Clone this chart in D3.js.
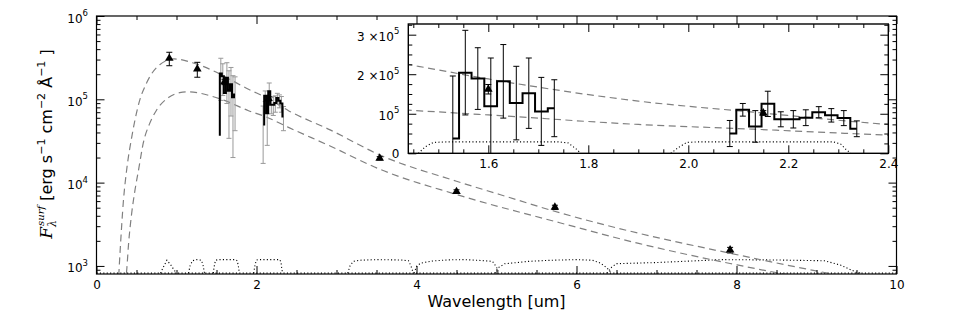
<!DOCTYPE html>
<html>
<head>
<meta charset="utf-8">
<script src="https://cdn.jsdelivr.net/npm/d3@7"></script>
<style>
body { margin: 0; background: #fff; }
svg { display: block; }
</style>
</head>
<body>
<script>
// фотометрия: длина волны (мкм), поток и ошибка
var photLam  = [0.91, 1.26, 1.60, 2.15, 3.54, 4.50, 5.73, 7.92];
var photFlux = [3.1e5, 2.31e5, 1.62e5, 1.02e5, 1.96e4, 7.8e3, 5.05e3, 1.55e3];
var photErr  = [0.57e5, 0.47e5, 0.12e5, 0.06e5, 0.9e3, 0.4e3, 0.3e3, 0.12e3];

// спектр в полосе H
var hLam  = [1.529, 1.554, 1.579, 1.605, 1.630, 1.656, 1.681, 1.706, 1.732];
var hFlux = [0.375e5, 2.04e5, 1.89e5, 1.19e5, 1.82e5, 1.27e5, 1.52e5, 1.06e5, 1.14e5];
var hErr  = [1.58e5, 1.07e5, 0.78e5, 1.22e5, 0.93e5, 0.93e5, 0.89e5, 0.86e5, 0.72e5];

// спектр в полосе K
var kLam  = [2.083, 2.109, 2.134, 2.159, 2.185, 2.210, 2.235, 2.261, 2.286, 2.311, 2.337];
var kFlux = [0.5e5, 1.1e5, 0.68e5, 1.25e5, 0.86e5, 0.86e5, 0.9e5, 1.04e5, 0.96e5, 0.89e5, 0.62e5];
var kErr  = [0.33e5, 0.16e5, 0.4e5, 0.32e5, 0.19e5, 0.22e5, 0.2e5, 0.14e5, 0.17e5, 0.19e5, 0.2e5];

// две модели (пунктир), точки
var hotLam  = [0.27, 0.30, 0.335, 0.38, 0.44, 0.53, 0.63, 0.79, 0.97, 1.2, 1.46, 1.6, 1.9, 2.13, 2.4, 2.92, 3.54, 4.5, 5.04, 5.79, 6.79, 7.92, 9.2, 9.5];
var hotFlux = [550, 1.8e3, 5.8e3, 1.5e4, 3.5e4, 9e4, 1.6e5, 2.6e5, 3.05e5, 2.75e5, 2.2e5, 1.88e5, 1.32e5, 1.04e5, 7.3e4, 4.3e4, 2.15e4, 1.04e4, 7.2e3, 4.35e3, 2.45e3, 1.42e3, 800, 710];
var coolLam  = [0.36, 0.38, 0.40, 0.44, 0.48, 0.53, 0.585, 0.66, 0.75, 0.9, 1.04, 1.15, 1.3, 1.44, 1.6, 1.9, 2.13, 2.4, 2.92, 3.54, 4.5, 5.79, 6.79, 7.92, 8.6, 8.9];
var coolFlux = [600, 950, 1.8e3, 4.3e3, 8e3, 1.5e4, 3.0e4, 5.0e4, 7.4e4, 1.05e5, 1.2e5, 1.23e5, 1.18e5, 1.09e5, 9.7e4, 7.3e4, 6.1e4, 4.6e4, 2.75e4, 1.45e4, 7.2e3, 3.3e3, 1.85e3, 1.07e3, 800, 720];

// кривые пропускания фильтров: [длина волны, пропускание]
var filtZ  = [[0.80,0],[0.84,0.45],[0.88,0.95],[0.93,0.55],[0.97,0.2],[1.0,0]];
var filtJ  = [[1.15,0],[1.17,0.5],[1.20,0.9],[1.25,1],[1.31,0.95],[1.33,0.6],[1.35,0]];
var filtH  = [[1.46,0],[1.475,0.6],[1.49,0.95],[1.52,1],[1.74,1],[1.76,0.9],[1.775,0.4],[1.785,0]];
var filtK  = [[1.965,0],[1.98,0.5],[1.997,0.95],[2.02,1],[2.29,1],[2.305,0.8],[2.315,0.35],[2.325,0]];
var filtI1 = [[3.14,0],[3.17,0.5],[3.21,0.85],[3.3,0.95],[3.5,1],[3.8,0.97],[3.9,0.9],[3.93,0.5],[3.96,0]];
var filtI2 = [[3.97,0],[4.0,0.45],[4.05,0.7],[4.2,0.88],[4.4,0.98],[4.6,1.0],[4.8,0.93],[4.95,0.85],[5.0,0.4],[5.03,0]];
var filtI3 = [[4.98,0],[5.02,0.35],[5.1,0.65],[5.4,0.85],[5.7,0.95],[6.0,1.0],[6.2,0.95],[6.3,0.7],[6.38,0.35],[6.44,0]];
var filtI4 = [[6.38,0],[6.44,0.4],[6.5,0.66],[7.0,0.75],[7.5,0.9],[7.8,1.0],[8.5,0.97],[9.1,0.9],[9.3,0.55],[9.5,0.05],[9.55,0]];
var filters = [filtZ, filtJ, filtH, filtK, filtI1, filtI2, filtI3, filtI4];

// подписи делений
var xTicks = [0, 2, 4, 6, 8, 10];
var yDecades = [3, 4, 5, 6];
var insetXTicks = [1.6, 1.8, 2.0, 2.2, 2.4];
var insetYTicks = [0, 1e5, 2e5, 3e5];
var insetYLabels = [['0', ''], ['10', '5'], ['2 \u00d710', '5'], ['3 \u00d710', '5']];

var w = 969, h = 323;
var font = '"DejaVu Sans", sans-serif';

var svg = d3.select('body').append('svg')
    .attr('width', w)
    .attr('height', h)
    .style('font-family', font);

// шкалы основного графика и врезки
var x = d3.scaleLinear().domain([0, 10]).range([96.5, 896.5]);
var y = d3.scaleLog().domain([800, 1e6]).range([274, 16]);
var xi = d3.scaleLinear().domain([1.44, 2.4]).range([408.3, 888.3]);
var yi = d3.scaleLinear().domain([0, 3.27e5]).range([153.3, 24]);

// базовый уровень и высота кривых фильтров на каждой панели
var filtMain = {base: 820, amp: 370};
var filtInset = {base: 0, amp: 0.29e5};

function zip(a, b) { return a.map(function(v, i) { return [v, b[i]]; }); }

var defs = svg.append('defs');
function addClip(id, sx, sy) {
    defs.append('clipPath').attr('id', id).append('rect')
        .attr('x', sx.range()[0]).attr('y', sy.range()[1])
        .attr('width', sx.range()[1] - sx.range()[0])
        .attr('height', sy.range()[0] - sy.range()[1]);
}
addClip('clip-main', x, y);
addClip('clip-inset', xi, yi);

// рисует содержимое панели
function drawPanel(g, sx, sy, opt) {
    var fline = d3.line()
        .x(function(d) { return sx(d[0]); })
        .y(function(d) { return sy(opt.filt.base + d[1] * opt.filt.amp); });

    if (opt.baseline) {
        g.append('path').attr('d', fline([[0, 0], [10, 0]]))
            .attr('fill', 'none').attr('stroke', '#000')
            .attr('stroke-width', 1.1).attr('stroke-dasharray', '1.1,2.3');
    }
    g.selectAll('path.filter').data(filters).enter().append('path')
        .attr('class', 'filter')
        .attr('d', fline)
        .attr('fill', 'none').attr('stroke', '#000')
        .attr('stroke-width', 1.1).attr('stroke-dasharray', '1.1,2.3');

    var mline = d3.line()
        .x(function(d) { return sx(d[0]); })
        .y(function(d) { return sy(d[1]); })
        .curve(d3.curveMonotoneX);
    [zip(hotLam, hotFlux), zip(coolLam, coolFlux)].forEach(function(m) {
        g.append('path').attr('d', mline(m))
            .attr('fill', 'none').attr('stroke', '#808080')
            .attr('stroke-width', 1.2).attr('stroke-dasharray', '7,4.5');
    });

    // ошибки спектра
    [[hLam, hFlux, hErr], [kLam, kFlux, kErr]].forEach(function(s) {
        s[0].forEach(function(l, i) {
            var lo = s[1][i] - s[2][i], hi = s[1][i] + s[2][i];
            if (opt.log && lo <= 0) return;
            var cx = sx(l);
            var eg = g.append('g').attr('stroke', opt.errColor).attr('stroke-width', 1);
            var ylo = opt.log ? sy(lo) : sy(Math.max(lo, sy.domain()[0] - 1e5));
            eg.append('line').attr('x1', cx).attr('x2', cx).attr('y1', sy(hi)).attr('y2', ylo);
            eg.append('line').attr('x1', cx - opt.cap).attr('x2', cx + opt.cap).attr('y1', sy(hi)).attr('y2', sy(hi));
            if (lo > 0) eg.append('line').attr('x1', cx - opt.cap).attr('x2', cx + opt.cap).attr('y1', sy(lo)).attr('y2', sy(lo));
        });
    });

    // спектр ступеньками
    var sline = d3.line()
        .x(function(d) { return sx(d[0]); })
        .y(function(d) { return sy(d[1]); })
        .curve(d3.curveStep);
    [zip(hLam, hFlux), zip(kLam, kFlux)].forEach(function(s) {
        g.append('path').attr('d', sline(s))
            .attr('fill', 'none').attr('stroke', '#000').attr('stroke-width', 2);
    });

    // фотометрия
    var phot = photLam.map(function(l, i) { return {l: l, f: photFlux[i], e: photErr[i]}; });
    var pg = g.selectAll('g.phot').data(phot).enter().append('g').attr('class', 'phot')
        .attr('stroke', '#000').attr('stroke-width', 1);
    pg.append('line')
        .attr('x1', function(d) { return sx(d.l); }).attr('x2', function(d) { return sx(d.l); })
        .attr('y1', function(d) { return sy(d.f + d.e); }).attr('y2', function(d) { return sy(d.f - d.e); });
    pg.append('line')
        .attr('x1', function(d) { return sx(d.l) - 3; }).attr('x2', function(d) { return sx(d.l) + 3; })
        .attr('y1', function(d) { return sy(d.f + d.e); }).attr('y2', function(d) { return sy(d.f + d.e); });
    pg.append('line')
        .attr('x1', function(d) { return sx(d.l) - 3; }).attr('x2', function(d) { return sx(d.l) + 3; })
        .attr('y1', function(d) { return sy(d.f - d.e); }).attr('y2', function(d) { return sy(d.f - d.e); });
    pg.append('path')
        .attr('d', d3.symbol().type(d3.symbolTriangle).size(32))
        .attr('transform', function(d) { return 'translate(' + sx(d.l) + ',' + sy(d.f) + ')'; })
        .attr('fill', '#000').attr('stroke', 'none');
}

// деления внутрь со всех сторон
function ticksInside(g, axis, pos, values, size, fmt, pad) {
    g.append('g').attr('transform', pos)
        .call(axis.tickValues(values).tickSize(-size).tickSizeOuter(0)
            .tickPadding(pad || 3).tickFormat(fmt || ''))
        .call(function(s) { s.select('.domain').remove(); })
        .attr('font-size', 12).attr('font-family', font);
}

// ===== основной график =====
var main = svg.append('g');
drawPanel(main.append('g').attr('clip-path', 'url(#clip-main)'), x, y,
    {filt: filtMain, baseline: true, log: true, errColor: '#999', cap: 2.5});

main.append('rect')
    .attr('x', x.range()[0]).attr('y', y.range()[1])
    .attr('width', x.range()[1] - x.range()[0]).attr('height', y.range()[0] - y.range()[1])
    .attr('fill', 'none').attr('stroke', '#000').attr('stroke-width', 1.2);

var xMinor = d3.range(1, 20).filter(function(i) { return i % 4 !== 0; }).map(function(i) { return i / 2; });
var yMinor = [];
[2, 3, 4, 5].forEach(function(p) {
    d3.range(2, 10).forEach(function(m) {
        var v = m * Math.pow(10, p);
        if (v > 850 && v < 1e6) yMinor.push(v);
    });
});
var yMajor = yDecades.map(function(p) { return Math.pow(10, p); });

ticksInside(main, d3.axisBottom(x), 'translate(0,' + y.range()[0] + ')', xTicks, 8, d3.format('d'), 6.5);
ticksInside(main, d3.axisBottom(x), 'translate(0,' + y.range()[0] + ')', xMinor, 4);
ticksInside(main, d3.axisTop(x), 'translate(0,' + y.range()[1] + ')', xTicks, 8);
ticksInside(main, d3.axisTop(x), 'translate(0,' + y.range()[1] + ')', xMinor, 4);
ticksInside(main, d3.axisLeft(y), 'translate(' + x.range()[0] + ',0)', yMajor, 8);
ticksInside(main, d3.axisLeft(y), 'translate(' + x.range()[0] + ',0)', yMinor, 4);
ticksInside(main, d3.axisRight(y), 'translate(' + x.range()[1] + ',0)', yMajor, 8);
ticksInside(main, d3.axisRight(y), 'translate(' + x.range()[1] + ',0)', yMinor, 4);

// подписи 10^n
yDecades.forEach(function(p) {
    var t = main.append('text')
        .attr('x', x.range()[0] - 8.5).attr('y', y(Math.pow(10, p)) + 6.5)
        .attr('text-anchor', 'end').attr('font-size', 12).text('10');
    t.append('tspan').attr('dy', -6.5).attr('font-size', 8.5).text(p);
});

main.append('text')
    .attr('x', (x.range()[0] + x.range()[1]) / 2).attr('y', 306.7)
    .attr('text-anchor', 'middle').attr('font-size', 16)
    .text('Wavelength [um]');

// подпись оси Y
var ylab = main.append('text')
    .attr('transform', 'translate(52,144) rotate(-90)')
    .attr('text-anchor', 'middle').attr('font-size', 16);
ylab.append('tspan').attr('font-family', '"DejaVu Serif", serif').attr('font-style', 'italic').attr('font-size', 17).text('F');
ylab.append('tspan').attr('font-family', '"DejaVu Serif", serif').attr('font-style', 'italic').attr('font-size', 11).attr('dy', 4).text('\u03bb');
ylab.append('tspan').attr('font-family', '"DejaVu Serif", serif').attr('font-style', 'italic').attr('font-size', 10).attr('dx', -6).attr('dy', -12).text('surf');
ylab.append('tspan').attr('dy', 8).text(' [erg s');
ylab.append('tspan').attr('dy', -7).attr('font-size', 11).text('\u22121');
ylab.append('tspan').attr('dy', 7).text(' cm');
ylab.append('tspan').attr('dy', -7).attr('font-size', 11).text('\u22122');
ylab.append('tspan').attr('dy', 7).text(' \u00c5');
ylab.append('tspan').attr('dy', -7).attr('font-size', 11).text('\u22121');
ylab.append('tspan').attr('dy', 7).text(' ]');

// ===== врезка =====
var inset = svg.append('g');
inset.append('rect')
    .attr('x', xi.range()[0]).attr('y', yi.range()[1])
    .attr('width', xi.range()[1] - xi.range()[0]).attr('height', yi.range()[0] - yi.range()[1])
    .attr('fill', '#fff');
drawPanel(inset.append('g').attr('clip-path', 'url(#clip-inset)'), xi, yi,
    {filt: filtInset, baseline: false, log: false, errColor: '#000', cap: 3});
inset.append('rect')
    .attr('x', xi.range()[0]).attr('y', yi.range()[1])
    .attr('width', xi.range()[1] - xi.range()[0]).attr('height', yi.range()[0] - yi.range()[1])
    .attr('fill', 'none').attr('stroke', '#000').attr('stroke-width', 1.4);

var xiMinor = d3.range(145, 241, 5).filter(function(i) { return i % 20 !== 0; }).map(function(i) { return i / 100; });
var yiMinor = d3.range(1, 14).filter(function(i) { return i % 4 !== 0; }).map(function(i) { return i * 0.25e5; });

ticksInside(inset, d3.axisBottom(xi), 'translate(0,' + yi.range()[0] + ')', insetXTicks, 8, d3.format('.1f'), 6);
ticksInside(inset, d3.axisBottom(xi), 'translate(0,' + yi.range()[0] + ')', xiMinor, 4);
ticksInside(inset, d3.axisTop(xi), 'translate(0,' + yi.range()[1] + ')', insetXTicks, 8);
ticksInside(inset, d3.axisTop(xi), 'translate(0,' + yi.range()[1] + ')', xiMinor, 4);
ticksInside(inset, d3.axisLeft(yi), 'translate(' + xi.range()[0] + ',0)', insetYTicks, 8);
ticksInside(inset, d3.axisLeft(yi), 'translate(' + xi.range()[0] + ',0)', yiMinor, 4);
ticksInside(inset, d3.axisRight(yi), 'translate(' + xi.range()[1] + ',0)', insetYTicks, 8);
ticksInside(inset, d3.axisRight(yi), 'translate(' + xi.range()[1] + ',0)', yiMinor, 4);

insetYTicks.forEach(function(v, i) {
    var lab = insetYLabels[i];
    var t = inset.append('text')
        .attr('x', xi.range()[0] - 9).attr('y', yi(v) + (lab[1] ? 6 : 4.3))
        .attr('text-anchor', 'end').attr('font-size', 12).text(lab[0]);
    if (lab[1]) t.append('tspan').attr('dy', -6.5).attr('font-size', 8.5).text(lab[1]);
});
</script>
</body>
</html>
